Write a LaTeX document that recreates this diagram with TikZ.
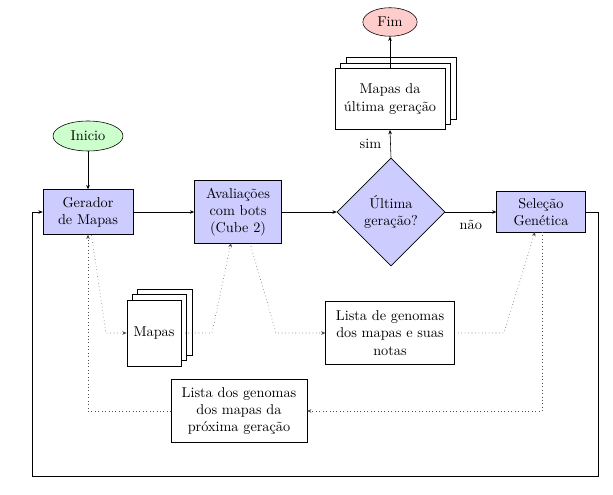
\documentclass[tikz,border=0pt]{standalone}
\usetikzlibrary{shapes.geometric,shadows,arrows.meta}
\begin{document}
\begin{tikzpicture}[x=0.7pt,y=-0.7pt,
  every node/.style={font=\normalsize},
  proc/.style={draw,fill=blue!20,align=center,inner sep=2pt},
  doc/.style={draw,fill=white,align=center,inner sep=2pt},
  stack/.style={doc,double copy shadow={shadow xshift=3.8pt,shadow yshift=3.8pt}},
  term/.style={draw,ellipse,inner sep=1pt},
  arr/.style={-{Stealth[length=3pt,width=2.5pt]}},
  dot/.style={dotted,black!70,-{Stealth[length=3pt,width=2.5pt]}}]
\useasboundingbox (0,0) rectangle (613,495);
% nodes
\node[term,fill=green!20,minimum width=49pt,minimum height=21pt] (ini) at (88,136) {Inicio};
\node[proc,minimum width=63pt,minimum height=31.5pt] (ger) at (88,212) {Gerador\\de Mapas};
\node[proc,minimum width=61pt,minimum height=44pt] (aval) at (238,212) {Avaliações\\com bots\\(Cube 2)};
\node[draw,diamond,fill=blue!20,aspect=1,minimum width=75.6pt,minimum height=75.6pt,inner sep=0pt,align=center] (dia) at (391,212) {Última\\geração?};
\node[proc,minimum width=62pt,minimum height=29pt] (sel) at (541,212) {Seleção\\Genética};
\node[stack,minimum width=77pt,minimum height=43pt] (ult) at (390,99) {Mapas da\\última geração};
\node[term,fill=red!20,minimum width=38pt,minimum height=20pt] (fim) at (390,22) {Fim};
\node[stack,minimum width=38pt,minimum height=46pt] (mapas) at (154,333) {Mapas};
\node[doc,minimum width=90pt,minimum height=44pt] (lgen) at (390,333) {Lista de genomas\\dos mapas e suas\\notas};
\node[doc,minimum width=95pt,minimum height=44pt] (lprox) at (239,411) {Lista dos genomas\\dos mapas da\\próxima geração};
% coordinates
\coordinate (g1) at (91.5,235.5);
\coordinate (c1) at (106,333);
\coordinate (c2) at (212,333);
\coordinate (a1) at (231,243);
\coordinate (a2) at (250,243);
\coordinate (c3) at (276,333);
\coordinate (c4) at (504,333);
\coordinate (s1) at (535,232);
\coordinate (s2) at (542,232);
\coordinate (m1) at (185,333);
\coordinate (r1) at (598,212);
\coordinate (r2) at (598,476);
\coordinate (r3) at (32,476);
\coordinate (r4) at (32,212);
% solid connectors
\draw[arr] (ini) -- (ger);
\draw[arr] (ger) -- (aval);
\draw[arr] (aval) -- (dia);
\draw[arr] (dia.east) -- node[below=2pt] {não} (sel.west);
\draw[arr] (dia.north) -- node[left=3pt] {sim} (ult.south);
\draw[arr] (ult.north) -- (fim.south);
\draw[arr] (sel.east) -- (r1) -- (r2) -- (r3) -- (r4) -- (ger.west);
% dotted connectors
\draw[dot] (g1) -- (c1) -- (mapas.west);
\draw[dot] (m1) -- (c2) -- (a1);
\draw[dot] (a2) -- (c3) -- (lgen.west);
\draw[dot] (lgen.east) -- (c4) -- (s1);
\draw[dot] (s2) |- (lprox.east);
\draw[dot] (lprox.west) -| (ger.south);
\end{tikzpicture}
\end{document}
